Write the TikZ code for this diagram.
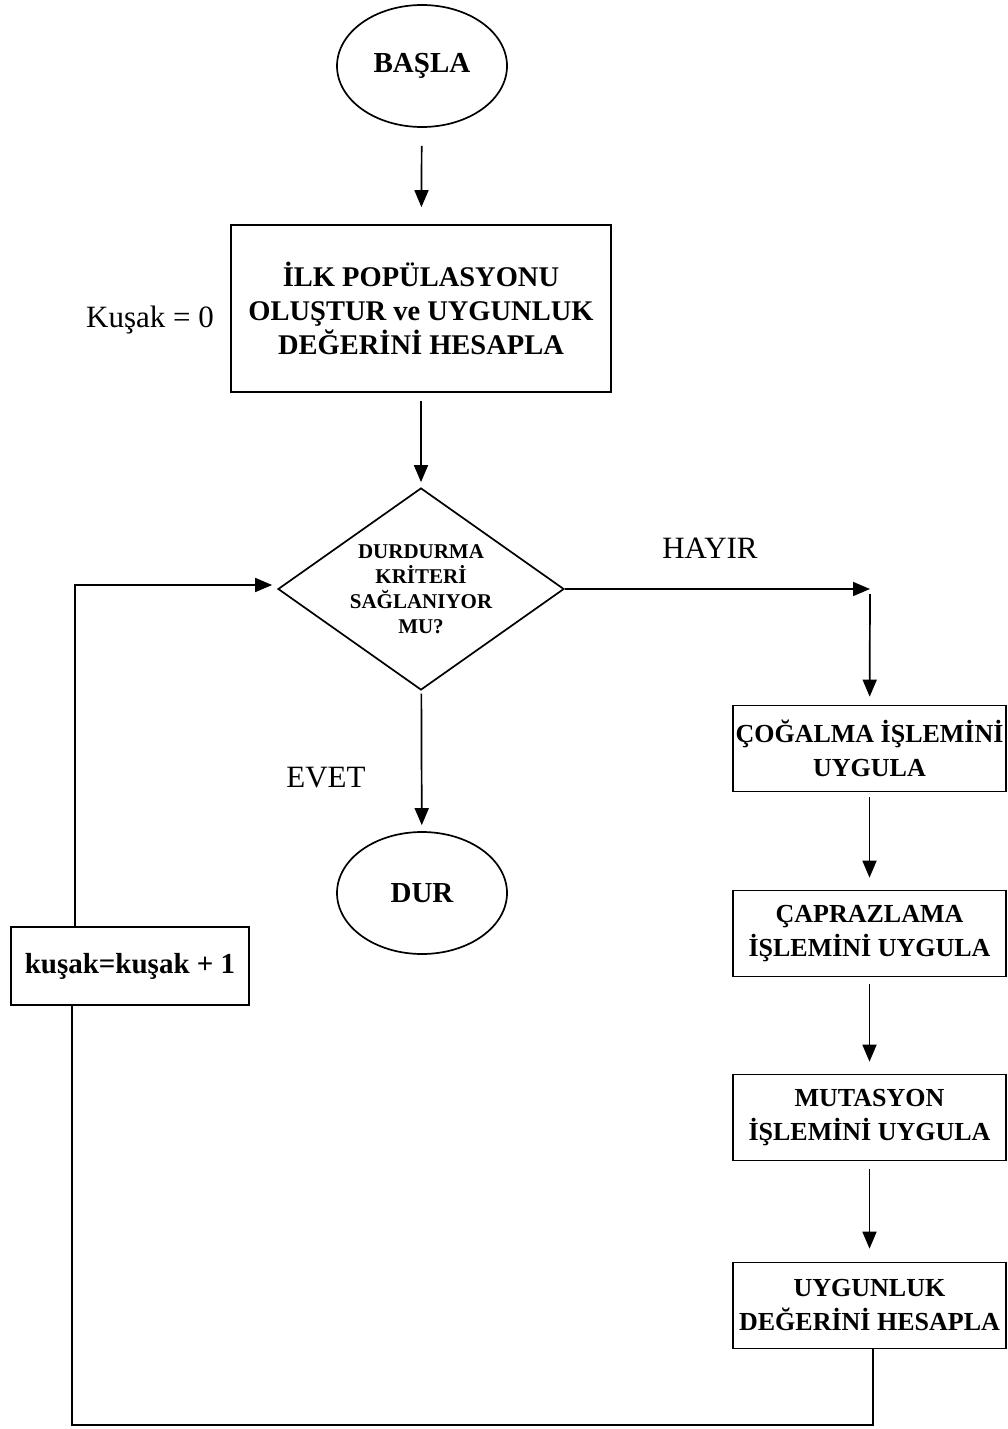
\documentclass[tikz,border=0pt]{standalone}
\usepackage{fontspec}
\setmainfont{Liberation Serif}
\usetikzlibrary{arrows.meta}
\usetikzlibrary{shapes.geometric}
\usetikzlibrary{positioning}

\begin{document}
\begin{tikzpicture}[x=1pt,y=-1pt,line width=1.7pt,
		>={Triangle[length=17pt,width=14pt]}]
		\tikzstyle{kutu}=[draw,rectangle,inner sep=0pt,align=center]
		\tikzstyle{sagkutu}=[kutu,minimum width=273pt,minimum height=86pt,
		font=\fontsize{26}{34}\selectfont\bfseries]
		\tikzstyle{oval}=[draw,ellipse,minimum width=170pt,minimum height=122pt,
		inner sep=0pt,font=\fontsize{29}{34}\selectfont\bfseries]
		\tikzstyle{etiket}=[font=\fontsize{31}{36}\selectfont]
		\useasboundingbox (0,0) rectangle (1008,1429);
		
		\node[oval]          (basla)    at (422,66)      {BAŞLA};
		\node[kutu,minimum width=380pt,minimum height=167pt,
		font=\fontsize{28.5}{34}\selectfont\bfseries]
		                     (ilk)      at (421,308.5)   {İLK POPÜLASYONU\\OLUŞTUR ve UYGUNLUK\\DEĞERİNİ HESAPLA};
		\node[etiket]        (kusaksifir) at (150,320)   {Kuşak = 0};
		\node[draw,diamond,aspect=1.416,minimum width=286pt,minimum height=202pt,
		inner sep=0pt,align=center,font=\fontsize{21}{25}\selectfont\bfseries]
		                     (kriter)   at (421,589)     {DURDURMA\\KRİTERİ\\SAĞLANIYOR\\MU?};
		\node[etiket]        (hayir)    at (710,548)     {HAYIR};
		\node[etiket]        (evet)     at (326,778)     {EVET};
		\node[oval]          (dur)      at (422,893)     {DUR};
		\node[sagkutu]       (cogalma)  at (869.5,748.5) {ÇOĞALMA İŞLEMİNİ\\UYGULA};
		\node[sagkutu]       (capraz)   at (869.5,933.5) {ÇAPRAZLAMA\\İŞLEMİNİ UYGULA};
		\node[sagkutu]       (mutasyon) at (869.5,1117.5) {MUTASYON\\İŞLEMİNİ UYGULA};
		\node[sagkutu]       (uygunluk) at (869.5,1305.5) {UYGUNLUK\\DEĞERİNİ HESAPLA};
		\node[kutu,minimum width=238pt,minimum height=78pt,
		font=\fontsize{29}{34}\selectfont\bfseries]
		                     (kusak)    at (130,966)     {kuşak=kuşak + 1};
		
		\coordinate (hayirkose) at (870,589);
		\coordinate (donus)     at (75,585);
		\coordinate (altsag)    at (873,1425);
		\coordinate (altsol)    at (72,1425);
		
		\path[->] (basla)    edge [shorten <=18pt,shorten >=17pt] (ilk)
		(ilk)       edge [shorten <=8pt,shorten >=5pt]   (kriter)
		(kriter.east) edge                               (hayirkose)
		(hayirkose) edge [shorten <=5pt,shorten >=8pt]   (cogalma)
		(cogalma)   edge [shorten <=5pt,shorten >=12pt]  (capraz)
		(capraz)    edge [shorten <=7pt,shorten >=12pt]  (mutasyon)
		(mutasyon)  edge [shorten <=8pt,shorten >=13pt]  (uygunluk)
		(kriter)    edge [shorten <=3pt,shorten >=6pt]   (dur);
		
		\draw (uygunluk.south -| altsag) -- (altsag) -- (altsol) -- (kusak.south -| altsol);
		\draw[->,shorten >=5pt] (kusak.north -| donus) -- (donus) -- (donus -| kriter.west);
\end{tikzpicture}
\end{document}
